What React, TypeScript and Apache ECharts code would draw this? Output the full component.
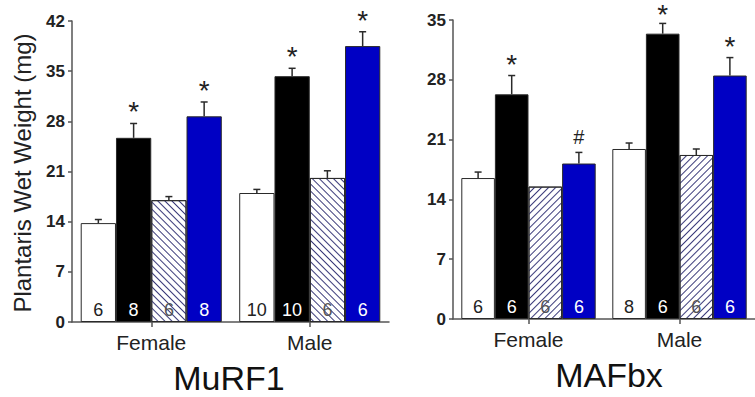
import React, { useEffect, useRef } from "react";
import * as echarts from "echarts";

const categories = ["Female", "Male"];
const groupNames = ["Control", "Black", "Hatched", "Blue"];

// MuRF1 panel
const murfValues = [
  [13.8, 18.0],
  [25.7, 34.3],
  [17.0, 20.1],
  [28.7, 38.5],
];
const murfErrors = [
  [0.5, 0.5],
  [2.0, 1.1],
  [0.5, 1.0],
  [2.0, 2.0],
];
const murfN = [
  [6, 10],
  [8, 10],
  [6, 6],
  [8, 6],
];
const murfMarks = [
  ["", ""],
  ["*", "*"],
  ["", ""],
  ["*", "*"],
];

// MAFbx panel
const mafValues = [
  [16.5, 19.9],
  [26.3, 33.4],
  [15.5, 19.2],
  [18.2, 28.5],
];
const mafErrors = [
  [0.7, 0.7],
  [2.2, 1.2],
  [0, 0.7],
  [1.3, 2.1],
];
const mafN = [
  [6, 8],
  [6, 6],
  [6, 6],
  [6, 6],
];
const mafMarks = [
  ["", ""],
  ["*", "*"],
  ["", ""],
  ["#", "*"],
];

const leftTicks = { min: 0, max: 42, interval: 7 };
const rightTicks = { min: 0, max: 35, interval: 7 };

const GAP = 0.11;
const FONT = "Liberation Sans, Arial, sans-serif";

function barStyle(s: number, rot: number) {
  const border = "#2a2a2a";
  if (s === 0) return { color: "#ffffff", borderColor: border, borderWidth: 1 };
  if (s === 1) return { color: "#000000", borderColor: border, borderWidth: 1 };
  if (s === 2)
    return {
      color: "#ffffff",
      borderColor: border,
      borderWidth: 1,
      decal: {
        symbol: "rect",
        symbolSize: 1,
        color: "#3a3a7a",
        backgroundColor: "#ffffff",
        dashArrayX: [1, 0],
        dashArrayY: [1, 4],
        rotation: rot,
      },
    };
  return { color: "#0000c4", borderColor: border, borderWidth: 1 };
}

const labelColors = ["#222222", "#ffffff", "#555555", "#ffffff"];

function buildPanel(
  values: number[][],
  errors: number[][],
  ns: number[][],
  marks: string[][],
  axisIndex: number,
  rot: number
) {
  const series: any[] = values.map((vals, s) => ({
    type: "bar",
    name: groupNames[s],
    xAxisIndex: axisIndex,
    yAxisIndex: axisIndex,
    data: vals,
    barGap: "0%",
    barCategoryGap: GAP * 100 + "%",
    itemStyle: barStyle(s, rot),
    label: {
      show: true,
      position: "insideBottom",
      distance: 3,
      formatter: (p: any) => String(ns[s][p.dataIndex]),
      color: labelColors[s],
      fontSize: 18,
      fontFamily: FONT,
    },
    silent: true,
  }));
  const errData: any[] = [];
  const errMarks: string[] = [];
  values.forEach((vals, s) => {
    vals.forEach((v, c) => {
      errData.push([c, v, errors[s][c], s]);
      errMarks.push(marks[s][c]);
    });
  });
  series.push({
    type: "custom",
    xAxisIndex: axisIndex,
    yAxisIndex: axisIndex,
    encode: { x: 0, y: 1 },
    data: errData,
    z: 5,
    silent: true,
    renderItem: (params: any, api: any) => {
      const ci = api.value(0);
      const v = api.value(1);
      const e = api.value(2);
      const s = api.value(3);
      const band = api.size([1, 0])[0];
      const barW = (band * (1 - GAP)) / 4;
      const base = api.coord([ci, v]);
      const top = api.coord([ci, v + e]);
      const x = base[0] + (s - 1.5) * barW;
      const children: any[] = [];
      const stroke = "#2a2a2a";
      if (e > 0) {
        children.push({
          type: "line",
          shape: { x1: x, y1: base[1], x2: x, y2: top[1] },
          style: { stroke, lineWidth: 1.5 },
        });
        children.push({
          type: "line",
          shape: { x1: x - 3.5, y1: top[1], x2: x + 3.5, y2: top[1] },
          style: { stroke, lineWidth: 1.5 },
        });
      }
      const m = errMarks[params.dataIndex];
      if (m) {
        const fs = m === "#" ? 20 : 28;
        let y = m === "#" ? top[1] - 15 : top[1] - 11.5;
        y = Math.max(y, fs / 2 + 0.5);
        children.push({
          type: "text",
          x: x,
          y: y,
          style: {
            text: m,
            fill: "#222",
            fontSize: fs,
            fontFamily: FONT,
            align: "center",
            verticalAlign: "middle",
          },
        });
      }
      return { type: "group", children };
    },
  });
  return series;
}

export default function App() {
  const ref = useRef<HTMLDivElement>(null);
  useEffect(() => {
    if (!ref.current) return;
    const chart = echarts.init(ref.current, undefined, { renderer: "svg" });
    const axisLine = { show: true, lineStyle: { color: "#555", width: 1.5 } };
    const xAxisCommon = {
      type: "category",
      data: categories,
      axisLine,
      axisTick: { show: true, alignWithLabel: true, length: 5, lineStyle: { color: "#555", width: 1.5 } },
      axisLabel: { fontSize: 21, color: "#222", margin: 10, fontFamily: FONT },
    };
    const yAxisCommon = {
      type: "value",
      axisLine,
      axisTick: { show: true, length: 4, lineStyle: { color: "#555", width: 1.5 } },
      axisLabel: { fontSize: 17, fontWeight: "bold", color: "#222", margin: 7, fontFamily: FONT },
      splitLine: { show: false },
    };
    chart.setOption({
      animation: false,
      backgroundColor: "#ffffff",
      grid: [
        { left: 72, top: 21, bottom: 75, width: 317 },
        { left: 453, top: 20, bottom: 78, right: -8 },
      ],
      xAxis: [
        { ...xAxisCommon, gridIndex: 0 },
        { ...xAxisCommon, gridIndex: 1 },
      ],
      yAxis: [
        { ...yAxisCommon, gridIndex: 0, ...leftTicks },
        { ...yAxisCommon, gridIndex: 1, ...rightTicks },
      ],
      series: [
        ...buildPanel(murfValues, murfErrors, murfN, murfMarks, 0, Math.PI / 4),
        ...buildPanel(mafValues, mafErrors, mafN, mafMarks, 1, -Math.PI / 4),
      ],
      graphic: [
        {
          type: "text",
          x: 22,
          y: 173,
          rotation: Math.PI / 2,
          style: {
            text: "Plantaris Wet Weight (mg)",
            fontSize: 24,
            fill: "#222",
            fontFamily: FONT,
            align: "center",
            verticalAlign: "middle",
          },
        },
        {
          type: "text",
          x: 229,
          y: 378,
          style: {
            text: "MuRF1",
            fontSize: 34,
            fill: "#111",
            fontFamily: FONT,
            align: "center",
            verticalAlign: "middle",
          },
        },
        {
          type: "text",
          x: 609,
          y: 375,
          style: {
            text: "MAFbx",
            fontSize: 34,
            fill: "#111",
            fontFamily: FONT,
            align: "center",
            verticalAlign: "middle",
          },
        },
      ],
    });
    return () => chart.dispose();
  }, []);
  return (
    <div
      ref={ref}
      style={{ position: "fixed", left: 0, top: 0, width: 755, height: 397, background: "#fff" }}
    />
  );
}
